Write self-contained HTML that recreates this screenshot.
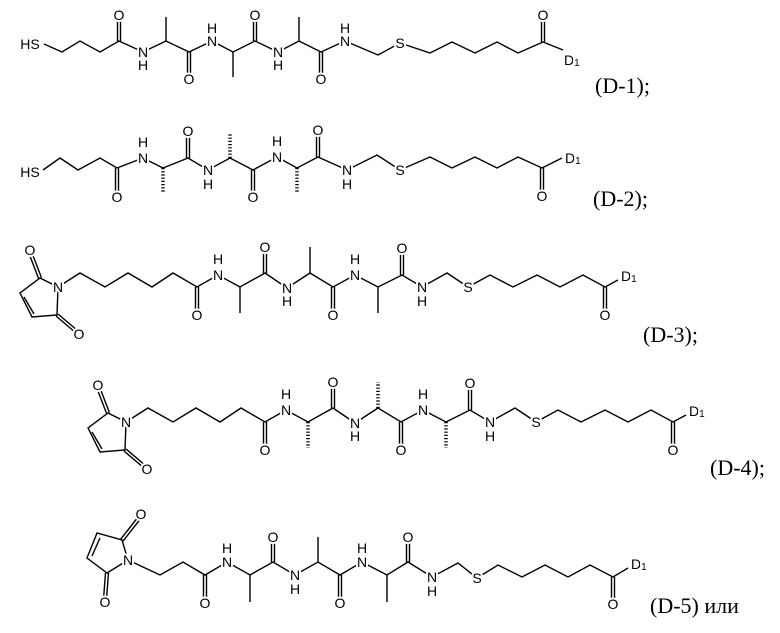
<!DOCTYPE html>
<html><head><meta charset="utf-8"><style>
html,body{margin:0;padding:0;background:#fff;}
svg{display:block;}
.b{fill:none;stroke:#000;stroke-width:1.4;stroke-linejoin:miter;}
.h{fill:none;stroke:#000;stroke-width:3.5;stroke-dasharray:1.2 2;}
.a{font-family:"Liberation Sans",sans-serif;font-size:14px;text-anchor:middle;dominant-baseline:central;fill:#000;stroke:#fff;stroke-width:4px;paint-order:stroke;stroke-linejoin:round;}
.d{font-family:"Liberation Sans",sans-serif;font-size:14px;fill:#000;stroke:#fff;stroke-width:4px;paint-order:stroke;dominant-baseline:central;}
.l{font-family:"Liberation Serif","DejaVu Serif",serif;font-size:22px;fill:#000;}
</style></head><body>
<svg width="780" height="633" viewBox="0 0 780 633" xmlns="http://www.w3.org/2000/svg">
<!-- D-1 -->
<g>
<polyline class="b" points="44,44 62,52 80,41 100,52 119,41 143,52 166,41 189,52 212,41 233,52 255,41 278,52 299,41 321,52 345,41 378,55 400,43 430,53 452,42 475,53 497,42 518,53 543,42 563,50"/>
<path class="b" d="M166 41V17M233 52V77M299 41V17M117.5 41V17M120.5 41V17M187.5 52V76M190.5 52V76M253.5 41V17M256.5 41V17M319.5 52V76M322.5 52V76M541.5 42V18M544.5 42V18"/>
<text class="a" x="30" y="44">HS</text>
<text class="a" x="119" y="15">O</text><text class="a" x="189" y="79">O</text><text class="a" x="255" y="15">O</text><text class="a" x="321" y="79">O</text><text class="a" x="543" y="15">O</text>
<text class="a" x="143" y="52">N</text><text class="a" x="143" y="65">H</text>
<text class="a" x="212" y="41">N</text><text class="a" x="212" y="28">H</text>
<text class="a" x="278" y="52">N</text><text class="a" x="278" y="65">H</text>
<text class="a" x="345" y="41">N</text><text class="a" x="345" y="28">H</text>
<text class="a" x="400" y="43">S</text>
<text class="d" x="564" y="60">D<tspan font-size="10" dy="3">1</tspan></text>
<text class="l" x="595" y="93">(D-1);</text>
</g>
<!-- D-2 -->
<g>
<polyline class="b" points="43,170 60,158 78,170 100,158 117,168 143,158 163,168 188,158 208,170 230,158 253,170 277,157 297,168 318,157 347,170 377,155 400,170 430,157 452,168 475,157 497,168 518,157 542,168 562,158"/>
<path class="h" d="M163 168V193M230 158V133M297 168V193"/>
<path class="b" d="M115.5 168V194M118.5 168V194M186.5 158V134M189.5 158V134M251.5 170V194M254.5 170V194M316.5 157V133M319.5 157V133M540.5 168V193M543.5 168V193"/>
<text class="a" x="30" y="172">HS</text>
<text class="a" x="117" y="197">O</text><text class="a" x="188" y="131">O</text><text class="a" x="253" y="197">O</text><text class="a" x="318" y="130">O</text><text class="a" x="542" y="196">O</text>
<text class="a" x="143" y="158">N</text><text class="a" x="143" y="142">H</text>
<text class="a" x="208" y="170">N</text><text class="a" x="208" y="184">H</text>
<text class="a" x="277" y="157">N</text><text class="a" x="277" y="141">H</text>
<text class="a" x="347" y="170">N</text><text class="a" x="347" y="184">H</text>
<text class="a" x="400" y="170">S</text>
<text class="d" x="565" y="158">D<tspan font-size="10" dy="3">1</tspan></text>
<text class="l" x="593" y="206">(D-2);</text>
</g>
<!-- D-3 -->
<g>
<path class="b" d="M58 287L40 278L20 293L32 317L57 315L58 287M24 297L34 314M38.6 278.5L28.6 252.5M41.4 277.5L31.4 251.5M58 314L78 331M56 316L76 333"/>
<polyline class="b" points="58,287 80,273 105,287 128,273 152,287 173,273 197,287 218,275 240,287 265,273 287,288 310,273 333,287 355,275 378,287 402,275 422,287 447,273 468,287 490,275 513,287 537,275 560,287 583,275 605,287 618,280"/>
<path class="b" d="M240 287V313M310 273V247M378 287V313M195.5 287V311M198.5 287V311M263.5 273V250M266.5 273V250M331.5 287V311M334.5 287V311M400.5 275V251M403.5 275V251M603.5 287V311M606.5 287V311"/>
<text class="a" x="30" y="250">O</text><text class="a" x="79" y="334">O</text>
<text class="a" x="58" y="287">N</text>
<text class="a" x="197" y="315">O</text><text class="a" x="265" y="247">O</text><text class="a" x="333" y="315">O</text><text class="a" x="402" y="248">O</text><text class="a" x="605" y="315">O</text>
<text class="a" x="218" y="275">N</text><text class="a" x="218" y="259">H</text>
<text class="a" x="287" y="288">N</text><text class="a" x="287" y="301">H</text>
<text class="a" x="355" y="275">N</text><text class="a" x="355" y="259">H</text>
<text class="a" x="422" y="287">N</text><text class="a" x="422" y="301">H</text>
<text class="a" x="468" y="287">S</text>
<text class="d" x="621" y="276">D<tspan font-size="10" dy="3">1</tspan></text>
<text class="l" x="643" y="342">(D-3);</text>
</g>
<!-- D-4 -->
<g transform="translate(68,135)">
<path class="b" d="M58 287L40 278L20 293L32 317L57 315L58 287M24 297L34 314M38.6 278.5L28.6 252.5M41.4 277.5L31.4 251.5M58 314L78 331M56 316L76 333"/>
<polyline class="b" points="58,287 80,273 105,287 128,273 152,287 173,273 197,287 218,275 240,287 265,273 287,288 310,273 333,287 355,275 378,287 402,275 422,287 447,273 468,287 490,275 513,287 537,275 560,287 583,275 605,287 618,280"/>
<path class="h" d="M240 287V313M310 273V247M378 287V313"/>
<path class="b" d="M195.5 287V311M198.5 287V311M263.5 273V250M266.5 273V250M331.5 287V311M334.5 287V311M400.5 275V251M403.5 275V251M603.5 287V311M606.5 287V311"/>
<text class="a" x="30" y="250">O</text><text class="a" x="79" y="334">O</text>
<text class="a" x="58" y="287">N</text>
<text class="a" x="197" y="315">O</text><text class="a" x="265" y="247">O</text><text class="a" x="333" y="315">O</text><text class="a" x="402" y="248">O</text><text class="a" x="605" y="315">O</text>
<text class="a" x="218" y="275">N</text><text class="a" x="218" y="259">H</text>
<text class="a" x="287" y="288">N</text><text class="a" x="287" y="301">H</text>
<text class="a" x="355" y="275">N</text><text class="a" x="355" y="259">H</text>
<text class="a" x="422" y="287">N</text><text class="a" x="422" y="301">H</text>
<text class="a" x="468" y="287">S</text>
<text class="d" x="621" y="276">D<tspan font-size="10" dy="3">1</tspan></text>
</g>
<text class="l" x="710" y="475">(D-4);</text>
<!-- D-5 -->
<g>
<path class="b" d="M128 560L122 540L97 533L87 558L107 573L128 560M100 538L92 556M123.2 540.9L141.2 517.9M120.8 539.1L138.8 516.1M105.5 573L103.5 599M108.5 573L106.5 599"/>
<polyline class="b" points="128,560 160,575 183,562 205,575 227,562 250,575 273,562 295,575 318,562 340,575 362,562 387,575 408,562 432,577 458,563 477,578 498,565 522,577 545,565 568,577 590,565 613,577 628,568"/>
<path class="b" d="M250 575V602M318 562V537M387 575V602M203.5 575V599M206.5 575V599M271.5 562V540M274.5 562V540M338.5 575V599M341.5 575V599M406.5 562V540M409.5 562V540M611.5 577V600M614.5 577V600"/>
<text class="a" x="141" y="514">O</text><text class="a" x="105" y="602">O</text>
<text class="a" x="128" y="560">N</text>
<text class="a" x="205" y="603">O</text><text class="a" x="273" y="537">O</text><text class="a" x="340" y="603">O</text><text class="a" x="408" y="537">O</text><text class="a" x="613" y="604">O</text>
<text class="a" x="227" y="562">N</text><text class="a" x="227" y="548">H</text>
<text class="a" x="295" y="575">N</text><text class="a" x="295" y="589">H</text>
<text class="a" x="362" y="562">N</text><text class="a" x="362" y="548">H</text>
<text class="a" x="432" y="577">N</text><text class="a" x="432" y="591">H</text>
<text class="a" x="477" y="578">S</text>
<text class="d" x="631" y="564">D<tspan font-size="10" dy="3">1</tspan></text>
<text class="l" x="650" y="613">(D-5) или</text>
</g>
</svg>
</body></html>
